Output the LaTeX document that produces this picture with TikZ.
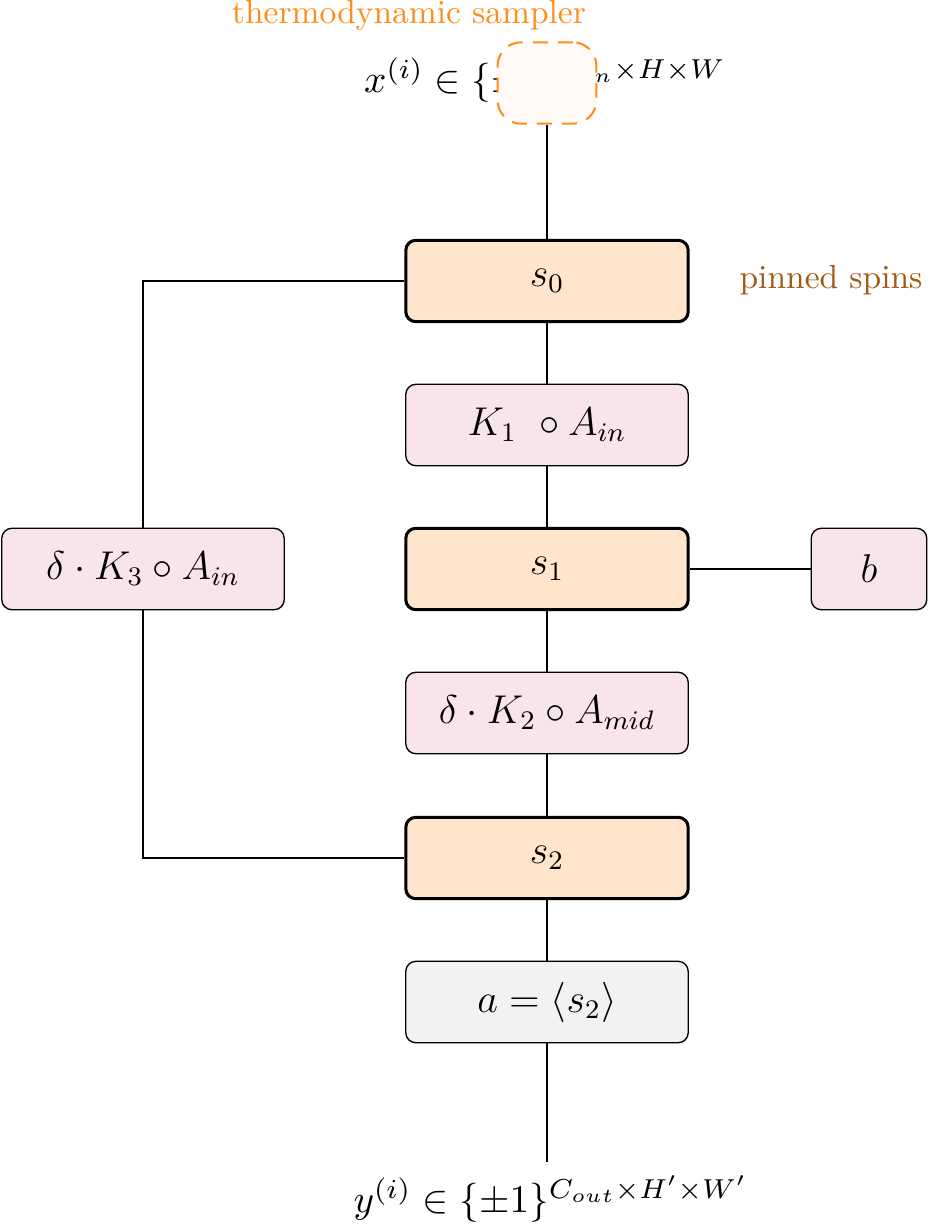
\documentclass[tikz,border=0pt]{standalone}
\usepackage{graphicx}
\usetikzlibrary{positioning}
\definecolor{spinfill}{RGB}{255,229,204}
\definecolor{opfill}{RGB}{248,228,236}
\definecolor{grayfill}{RGB}{242,242,242}
\definecolor{pinbrown}{RGB}{160,90,20}
\definecolor{samporange}{RGB}{255,140,26}
\definecolor{sampfill}{RGB}{255,250,245}
\begin{document}
\begin{tikzpicture}[x=0.2985pt,y=-0.2985pt,
  box/.style={draw, rounded corners=3pt, minimum width=84.3pt, minimum height=24.3pt, inner sep=0pt, font=\large},
  spinbox/.style={box, fill=spinfill, line width=0.9pt},
  opbox/.style={box, fill=opfill, line width=0.4pt},
  readbox/.style={box, fill=grayfill, line width=0.4pt},
  iolabel/.style={inner sep=0pt},
  conn/.style={line width=0.4pt}]
\useasboundingbox (0,0) rectangle (929,1225);
\node[font=\normalsize, text=samporange] (title) at (409,15) {thermodynamic sampler};
\node[iolabel] (xin) at (545,80) {\scalebox{1.17}{$x^{(i)}\in\{\pm1\}^{C_{in}\times H\times W}$}};
\node[draw=samporange, dash pattern=on 4.5pt off 3pt, fill=sampfill, rounded corners=7pt, line width=0.6pt, minimum width=29.5pt, minimum height=24.3pt, inner sep=0pt] (samp) at (547,83) {};
\node[spinbox] (s0) at (547,281) {$s_0$};
\node[font=\normalsize, text=pinbrown] (pin) at (831,280) {pinned spins};
\node[opbox] (k1) at (547,425) {$K_1\ \circ A_{in}$};
\node[spinbox] (s1) at (547,569) {$s_1$};
\node[opbox, minimum width=34.5pt] (b) at (869,569) {$b$};
\node[opbox] (k3) at (143,569) {$\delta\cdot K_3\circ A_{in}$};
\node[opbox] (k2) at (547,713) {$\delta\cdot K_2\circ A_{mid}$};
\node[spinbox] (s2) at (547,858) {$s_2$};
\node[readbox] (a) at (547,1002) {$a=\langle s_2\rangle$};
\coordinate (yend) at (547,1162);
\node[iolabel] (yout) at (551,1199) {\scalebox{1.17}{$y^{(i)}\in\{\pm1\}^{C_{out}\times H'\times W'}$}};
\draw[conn] (samp) -- (s0);
\draw[conn] (s0) -- (k1);
\draw[conn] (k1) -- (s1);
\draw[conn] (s1) -- (k2);
\draw[conn] (k2) -- (s2);
\draw[conn] (s2) -- (a);
\draw[conn] (a) -- (yend);
\draw[conn] (s1) -- (b);
\draw[conn] (s0.west) -| (k3.north);
\draw[conn] (k3.south) |- (s2.west);
\end{tikzpicture}
\end{document}
